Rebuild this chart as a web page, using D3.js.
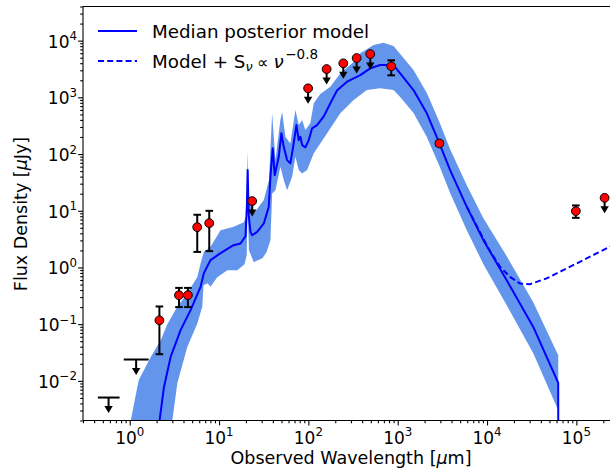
<!DOCTYPE html>
<html><head><meta charset="utf-8">
<script src="https://cdn.jsdelivr.net/npm/d3@7"></script>
<style>body{margin:0;background:#fff} text{font-family:"DejaVu Sans",sans-serif;fill:#000}</style>
</head><body>
<svg id="c" width="610" height="470"></svg>
<script>
// ---- data ----
const medianWl = [2.0, 2.16, 2.42, 2.87, 3.71, 4.80, 6.21, 6.76, 8.03, 10.4, 14.5, 17.4, 19.8, 20.5, 20.9, 21.5, 22.5, 23.5, 26.7, 31.7, 36.0, 37.6, 39.9, 42.0, 46.6, 49.9, 53.0, 57.8, 62.9, 67.5, 73.5, 78.0, 81.4, 85.1, 92.6, 101, 110, 125, 148, 176, 209, 271, 381, 493, 637, 897, 1066, 1502, 2118, 2931, 3860, 5933, 9100, 16600, 32900, 62650, 62650];
const medianF = [0.0012, 0.00202, 0.00782, 0.0264, 0.0784, 0.177, 0.455, 0.793, 1.35, 1.79, 2.47, 2.65, 3.57, 12.6, 52.1, 8.37, 4.2, 3.71, 4.25, 5.97, 11.7, 39.7, 126, 42.5, 89.5, 232, 134, 78.2, 68.4, 134, 324, 176, 202, 144, 131, 176, 284, 324, 455, 784, 1318, 1885, 2472, 3250, 3715, 3715, 2650, 1345, 522, 154, 52.1, 11.7, 3.03, 0.597, 0.0895, 0.0092, 0.0001];

const upperWl = [0.95, 1.03, 1.26, 1.72, 2.22, 2.64, 3.41, 4.41, 5.71, 6.21, 6.76, 8.03, 10.4, 14.6, 18.9, 20.4, 20.9, 21.6, 24.5, 31.7, 36.2, 39.3, 42.8, 48.6, 50.8, 55.3, 62.9, 71.6, 78.0, 85.1, 92.6, 105, 115, 136, 176, 228, 321, 381, 537, 693, 897, 1066, 1502, 2118, 2931, 3860, 5933, 9100, 16600, 32900, 62650];
const upperF = [0.0012, 0.00204, 0.01026, 0.0264, 0.052, 0.1, 0.202, 0.348, 0.682, 1.18, 1.88, 2.31, 4.55, 5.2, 6.3, 8.4, 117, 15.4, 8.97, 15.4, 34.7, 522, 78.2, 397, 557, 202, 154, 597, 324, 397, 265, 348, 784, 1143, 1538, 2650, 4198, 5970, 8370, 9190, 8040, 5830, 3030, 1190, 366, 122, 28.3, 7.41, 1.58, 0.244, 0.0283];

const lowerWl = [2.95, 3.0, 3.41, 4.41, 5.71, 6.49, 6.71, 7.44, 8.03, 9.55, 12.4, 16.0, 19.3, 20.4, 20.9, 21.6, 24.5, 30.6, 34.0, 37.6, 39.3, 42.8, 48.6, 53.0, 57.8, 65.8, 71.6, 78.0, 85.1, 96.8, 115, 162, 228, 321, 452, 637, 897, 1066, 1502, 2118, 2931, 3860, 5933, 9100, 16600, 32900, 62650];
const lowerF = [0.0012, 0.002, 0.00908, 0.0397, 0.103, 0.202, 0.488, 0.528, 0.455, 0.674, 0.896, 0.896, 1.14, 1.65, 12.5, 2.02, 1.24, 1.46, 1.86, 3.03, 20.2, 23.1, 59.6, 34.7, 23.1, 39.7, 89.5, 52.1, 45.6, 52.1, 103, 232, 522, 896, 1345, 1442, 1345, 1012, 528, 199, 61.3, 20.5, 4.55, 1.14, 0.216, 0.0307, 0.00303];

const dashWl = [5933, 9100, 10810, 13970, 18070, 23380, 30200, 46400, 71200, 109400, 168000, 236600, 300000];
const dashF = [11.8, 3.2, 1.94, 1.03, 0.682, 0.522, 0.507, 0.640, 0.896, 1.256, 1.77, 2.31, 2.75];

const detWl = [2.15, 3.56, 4.48, 5.7, 7.77, 846, 2930, 98600];
const detF  = [0.117, 0.324, 0.324, 5.14, 6.05, 3524, 154, 9.85];
const detLo = [0.0295, 0.2, 0.2, 1.88, 1.94, 2445, 140, 7.5];
const detHi = [0.205, 0.436, 0.436, 8.5, 9.97, 4500, 168, 12.4];

const ulWl = [23.5, 99.3, 160, 246, 347, 493, 207000];
const ulF  = [14.8, 1442, 3155, 3980, 4930, 5800, 16.9];

const ulBarWl = [0.58, 1.18];
const ulBarF  = [0.00508, 0.0238];
const ulBarLo = [0.44, 0.857];
const ulBarHi = [0.77, 1.63];

const xMajor = [1, 10, 100, 1e3, 1e4, 1e5];
const xMajorExp = [0, 1, 2, 3, 4, 5];
const yMajor = [1e-2, 1e-1, 1, 10, 100, 1e3, 1e4];
const yMajorExp = [-2, -1, 0, 1, 2, 3, 4];

// ---- layout ----
const L = 83, R = 619, T = 6.5, B = 420.5;
const svg = d3.select('#c');
const x = d3.scaleLog().domain([0.3, 3e5]).range([L, R]);
const y = d3.scaleLog().domain([2e-3, 4e4]).range([B, T]);

svg.append('defs').append('clipPath').attr('id', 'clip')
  .append('rect').attr('x', L).attr('y', T).attr('width', R - L).attr('height', B - T);
const g = svg.append('g').attr('clip-path', 'url(#clip)');

const line = d3.line().x(d => x(d[0])).y(d => y(d[1]));
const zip = (a, b) => a.map((v, i) => [v, b[i]]);

// band
const bandPts = zip(upperWl, upperF).concat(zip(lowerWl, lowerF).reverse());
g.append('path').attr('d', line(bandPts) + 'Z').attr('fill', '#6495ed').attr('stroke', 'none');
// median
g.append('path').attr('d', line(zip(medianWl, medianF))).attr('fill', 'none')
  .attr('stroke', '#0000ff').attr('stroke-width', 2).attr('stroke-linejoin', 'round');
// dashed
g.append('path').attr('d', line(zip(dashWl, dashF))).attr('fill', 'none')
  .attr('stroke', '#0000ff').attr('stroke-width', 2).attr('stroke-dasharray', '6,3.2');

// minor tick generation
function minors(lo, hi) {
  const out = [];
  for (let e = -4; e <= 6; e++) for (let m = 2; m <= 9; m++) {
    const v = m * Math.pow(10, e);
    if (v >= lo * 0.999 && v <= hi * 1.001) out.push(v);
  }
  return out;
}
const ax = svg.append('g');
ax.append('g').attr('transform', `translate(0,${B})`)
  .call(d3.axisBottom(x).tickValues(minors(0.3, 3e5)).tickSize(2.8).tickFormat(''))
  .call(s => s.select('.domain').remove());
ax.append('g').attr('transform', `translate(0,${B})`)
  .call(d3.axisBottom(x).tickValues(xMajor).tickSize(4.9).tickFormat(''))
  .call(s => s.select('.domain').remove());
ax.append('g').attr('transform', `translate(${L},0)`)
  .call(d3.axisLeft(y).tickValues(minors(2e-3, 4e4)).tickSize(2.8).tickFormat(''))
  .call(s => s.select('.domain').remove());
ax.append('g').attr('transform', `translate(${L},0)`)
  .call(d3.axisLeft(y).tickValues(yMajor).tickSize(4.9).tickFormat(''))
  .call(s => s.select('.domain').remove());
ax.selectAll('.tick line').attr('stroke', '#000').attr('stroke-width', 1.1);

function sci(t, e) {
  t.append('tspan').text('10');
  t.append('tspan').attr('dy', -7.5).attr('font-size', 11.8).text(e < 0 ? '\u2212' + (-e) : String(e));
}
xMajor.forEach((v, i) => {
  const t = svg.append('text').attr('x', x(v)).attr('y', B + 23)
    .attr('text-anchor', 'middle').attr('font-size', 17);
  sci(t, xMajorExp[i]);
});
yMajor.forEach((v, i) => {
  const t = svg.append('text').attr('x', 77).attr('y', y(v) + 7)
    .attr('text-anchor', 'end').attr('font-size', 17);
  sci(t, yMajorExp[i]);
});

// spines
const sp = svg.append('g').attr('stroke', '#000').attr('stroke-width', 1.1);
sp.append('line').attr('x1', L).attr('x2', L).attr('y1', T).attr('y2', B);
sp.append('line').attr('x1', L).attr('x2', R).attr('y1', B).attr('y2', B);
sp.append('line').attr('x1', L).attr('x2', R).attr('y1', T).attr('y2', T);
sp.append('line').attr('x1', R).attr('x2', R).attr('y1', T).attr('y2', B);

// data points
const pts = svg.append('g');
const capW = 3.8, arrowLen = 15.5;
detWl.forEach((w, i) => {
  const cx = x(w), y1 = y(detLo[i]), y2 = y(detHi[i]);
  pts.append('line').attr('x1', cx).attr('x2', cx).attr('y1', y1).attr('y2', y2)
    .attr('stroke', '#000').attr('stroke-width', 2);
  [y1, y2].forEach(yy => pts.append('line').attr('x1', cx - capW).attr('x2', cx + capW)
    .attr('y1', yy).attr('y2', yy).attr('stroke', '#000').attr('stroke-width', 2));
});
function arrow(cx, cy) {
  pts.append('line').attr('x1', cx).attr('x2', cx).attr('y1', cy).attr('y2', cy + arrowLen - 5)
    .attr('stroke', '#000').attr('stroke-width', 2);
  pts.append('path').attr('d', `M${cx - 4.2},${cy + arrowLen - 7}L${cx + 4.2},${cy + arrowLen - 7}L${cx},${cy + arrowLen}Z`)
    .attr('fill', '#000');
}
ulBarWl.forEach((w, i) => {
  const cy = y(ulBarF[i]);
  pts.append('line').attr('x1', x(ulBarLo[i])).attr('x2', x(ulBarHi[i])).attr('y1', cy).attr('y2', cy)
    .attr('stroke', '#000').attr('stroke-width', 2);
  arrow(x(w), cy);
});
ulWl.forEach((w, i) => arrow(x(w), y(ulF[i])));
detWl.forEach((w, i) => pts.append('circle').attr('cx', x(w)).attr('cy', y(detF[i])).attr('r', 4.4)
  .attr('fill', '#ff0000').attr('stroke', '#000').attr('stroke-width', 1));
ulWl.forEach((w, i) => pts.append('circle').attr('cx', x(w)).attr('cy', y(ulF[i])).attr('r', 4.4)
  .attr('fill', '#ff0000').attr('stroke', '#000').attr('stroke-width', 1));

// legend
const lg = svg.append('g');
lg.append('line').attr('x1', 98).attr('x2', 137).attr('y1', 31).attr('y2', 31)
  .attr('stroke', '#0000ff').attr('stroke-width', 2);
lg.append('text').attr('x', 152).attr('y', 37.5).attr('font-size', 18.3).text('Median posterior model');
lg.append('line').attr('x1', 98).attr('x2', 137).attr('y1', 61).attr('y2', 61)
  .attr('stroke', '#0000ff').attr('stroke-width', 2).attr('stroke-dasharray', '6,3.2');
const t2 = lg.append('text').attr('x', 152).attr('y', 67.5).attr('font-size', 18.3);
t2.append('tspan').text('Model + S');
t2.append('tspan').attr('font-size', 12.8).attr('font-style', 'italic').attr('dy', 3.5).text('\u03bd');
t2.append('tspan').attr('dy', -3.5).attr('dx', 4.5).attr('font-size', 16).text('\u221d');
t2.append('tspan').attr('dx', 5).attr('font-style', 'italic').text('\u03bd');
t2.append('tspan').attr('font-size', 13.5).attr('dx', 1.5).attr('dy', -8.5).text('\u22120.8');

// axis labels
const xl = svg.append('text').attr('x', (L + R) / 2).attr('y', 463.5).attr('text-anchor', 'middle').attr('font-size', 17.5);
xl.append('tspan').text('Observed Wavelength [');
xl.append('tspan').attr('font-style', 'italic').text('\u03bc');
xl.append('tspan').text('m]');
const yl = svg.append('text').attr('transform', 'translate(27,214) rotate(-90)').attr('text-anchor', 'middle').attr('font-size', 17.5);
yl.append('tspan').text('Flux Density [');
yl.append('tspan').attr('font-style', 'italic').text('\u03bc');
yl.append('tspan').text('Jy]');
</script>
</body></html>
